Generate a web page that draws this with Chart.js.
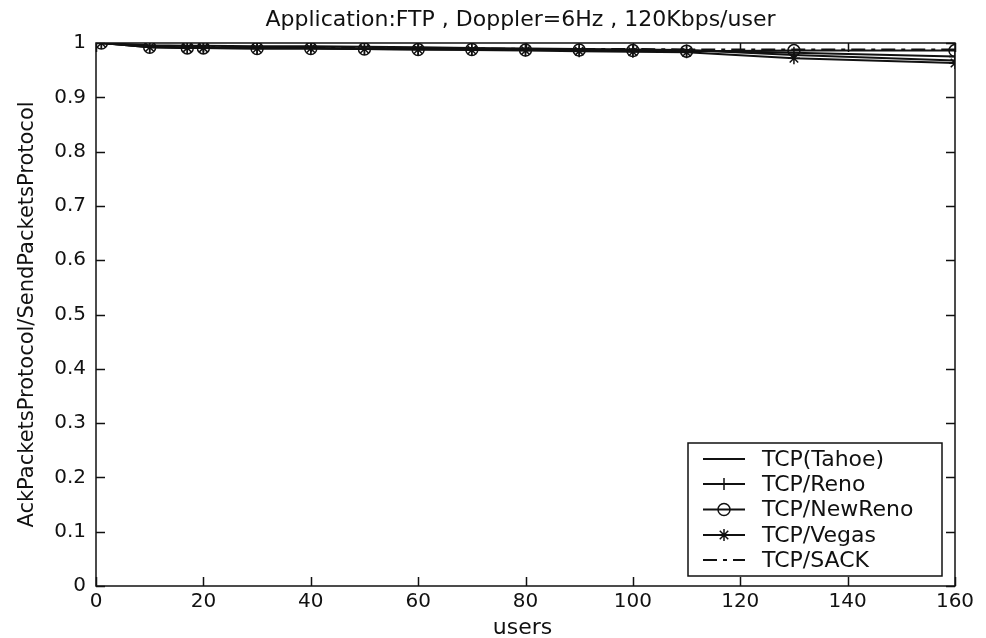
<!DOCTYPE html>
<html><head><meta charset="utf-8">
<script src="https://cdn.jsdelivr.net/npm/chart.js@4.4.1/dist/chart.umd.min.js"></script>
<style>html,body{margin:0;padding:0;background:#fff}#wrap{width:986px;height:638px}</style>
</head><body><div id="wrap"><canvas id="c" width="986" height="638"></canvas></div>
<script>
const titleText = 'Application:FTP , Doppler=6Hz , 120Kbps/user';
const xLabel = 'users';
const yLabel = 'AckPacketsProtocol/SendPacketsProtocol';
const users   = [1, 10, 17, 20, 30, 40, 50, 60, 70, 80, 90, 100, 110, 130, 160];
const tahoe   = [1.0, 0.996, 0.995, 0.995, 0.994, 0.994, 0.993, 0.992, 0.991, 0.990, 0.989, 0.988, 0.987, 0.978, 0.968];
const reno    = [1.0, 0.993, 0.992, 0.992, 0.991, 0.991, 0.990, 0.989, 0.989, 0.988, 0.988, 0.987, 0.986, 0.982, 0.975];
const newReno = [1.0, 0.992, 0.991, 0.991, 0.990, 0.990, 0.989, 0.988, 0.988, 0.987, 0.987, 0.986, 0.985, 0.986, 0.986];
const vegas   = [1.0, 0.992, 0.991, 0.991, 0.990, 0.990, 0.989, 0.988, 0.987, 0.986, 0.985, 0.984, 0.983, 0.972, 0.963];
const sack    = [1.0, 0.994, 0.993, 0.993, 0.992, 0.992, 0.991, 0.990, 0.990, 0.989, 0.989, 0.989, 0.988, 0.988, 0.988];
const seriesNames = ['TCP(Tahoe)', 'TCP/Reno', 'TCP/NewReno', 'TCP/Vegas', 'TCP/SACK'];
const xTicks = [0, 20, 40, 60, 80, 100, 120, 140, 160];
const yTicks = [0, 0.1, 0.2, 0.3, 0.4, 0.5, 0.6, 0.7, 0.8, 0.9, 1];
const yTickLabels = ['0', '0.1', '0.2', '0.3', '0.4', '0.5', '0.6', '0.7', '0.8', '0.9', '1'];

const FONT = '"DejaVu Sans", sans-serif';
const INK = '#111';

function pts(ys){ return users.map((u,i)=>({x:u, y:ys[i]})); }

const styles = [
  {data: tahoe,   pointStyle: false, dash: []},
  {data: reno,    pointStyle: 'cross', dash: []},
  {data: newReno, pointStyle: 'circle', dash: []},
  {data: vegas,   pointStyle: 'star', dash: []},
  {data: sack,    pointStyle: false, dash: [14, 6, 4, 6]}
];

const datasets = styles.map((s,i)=>({
  label: seriesNames[i],
  data: pts(s.data),
  borderColor: INK,
  borderWidth: 2,
  borderDash: s.dash,
  backgroundColor: 'rgba(0,0,0,0)',
  pointStyle: s.pointStyle,
  pointRadius: s.pointStyle ? 6 : 0,
  pointBorderColor: INK,
  pointBackgroundColor: 'rgba(0,0,0,0)',
  pointBorderWidth: 1.5,
  tension: 0,
  fill: false
}));

const decor = {
  id: 'decor',
  afterDraw(chart){
    const ctx = chart.ctx, a = chart.chartArea;
    const xs = chart.scales.x, ys = chart.scales.y;
    ctx.save();
    // box
    ctx.strokeStyle = INK; ctx.lineWidth = 1.5; ctx.setLineDash([]);
    ctx.strokeRect(a.left, a.top, a.right - a.left, a.bottom - a.top);
    // ticks inward
    const TL = 9;
    ctx.beginPath();
    xTicks.forEach(v=>{
      const px = Math.round(xs.getPixelForValue(v)) + 0.5;
      ctx.moveTo(px, a.bottom); ctx.lineTo(px, a.bottom - TL);
      ctx.moveTo(px, a.top); ctx.lineTo(px, a.top + TL);
    });
    yTicks.forEach(v=>{
      const py = Math.round(ys.getPixelForValue(v)) + 0.5;
      ctx.moveTo(a.left, py); ctx.lineTo(a.left + TL, py);
      ctx.moveTo(a.right, py); ctx.lineTo(a.right - TL, py);
    });
    ctx.stroke();
    // title and axis labels
    ctx.fillStyle = INK;
    ctx.font = '22px ' + FONT;
    ctx.textAlign = 'center'; ctx.textBaseline = 'middle';
    ctx.fillText(titleText, (a.left + a.right)/2 - 5, 20);
    ctx.fillText(xLabel, (a.left + a.right)/2 - 3, 628);
    ctx.save();
    ctx.translate(28, (a.top + a.bottom)/2);
    ctx.rotate(-Math.PI/2);
    ctx.font = '21px ' + FONT;
    ctx.fillText(yLabel, 0, 0);
    ctx.restore();
    // legend
    const L = 688, T = 443, R = 942, B = 576;
    ctx.fillStyle = '#fff';
    ctx.fillRect(L, T, R - L, B - T);
    ctx.strokeStyle = INK; ctx.lineWidth = 1.5;
    ctx.strokeRect(L, T, R - L, B - T);
    const rowY = [459, 484, 509.5, 535, 560];
    chart.data.datasets.forEach((ds, i)=>{
      const y = rowY[i];
      ctx.strokeStyle = INK; ctx.lineWidth = 2;
      ctx.setLineDash(ds.borderDash || []);
      ctx.beginPath(); ctx.moveTo(703, y); ctx.lineTo(745, y); ctx.stroke();
      ctx.setLineDash([]);
      if (ds.pointStyle) {
        ctx.fillStyle = 'rgba(0,0,0,0)';
        ctx.strokeStyle = INK; ctx.lineWidth = 1.5;
        Chart.helpers.drawPoint(ctx, {pointStyle: ds.pointStyle, radius: 6, borderWidth: 1.5, rotation: 0}, 724, y);
      }
      ctx.fillStyle = INK;
      ctx.font = '22px ' + FONT;
      ctx.textAlign = 'left'; ctx.textBaseline = 'middle';
      ctx.fillText(ds.label, 762, y + 1);
    });
    ctx.restore();
  }
};

new Chart(document.getElementById('c'), {
  type: 'line',
  data: { datasets },
  options: {
    responsive: false,
    animation: false,
    devicePixelRatio: 1,
    layout: { padding: { top: 43, right: 31, left: 0, bottom: 0 } },
    plugins: { legend: { display: false }, title: { display: false }, tooltip: { enabled: false } },
    scales: {
      x: {
        type: 'linear', min: 0, max: 160,
        afterFit: s => { s.height = 52; },
        afterBuildTicks: s => { s.ticks = xTicks.map(v=>({value: v})); },
        grid: { display: false, drawTicks: false },
        border: { display: false },
        ticks: { color: INK, font: { family: FONT, size: 20 }, padding: 4, maxRotation: 0,
                 callback: v => String(v) }
      },
      y: {
        type: 'linear', min: 0, max: 1,
        afterFit: s => { s.width = 96; },
        afterBuildTicks: s => { s.ticks = yTicks.map(v=>({value: v})); },
        grid: { display: false, drawTicks: false },
        border: { display: false },
        ticks: { color: INK, font: { family: FONT, size: 20 }, padding: 10,
                 callback: (v, i) => yTickLabels[i] }
      }
    }
  },
  plugins: [decor]
});
</script>
</body></html>
